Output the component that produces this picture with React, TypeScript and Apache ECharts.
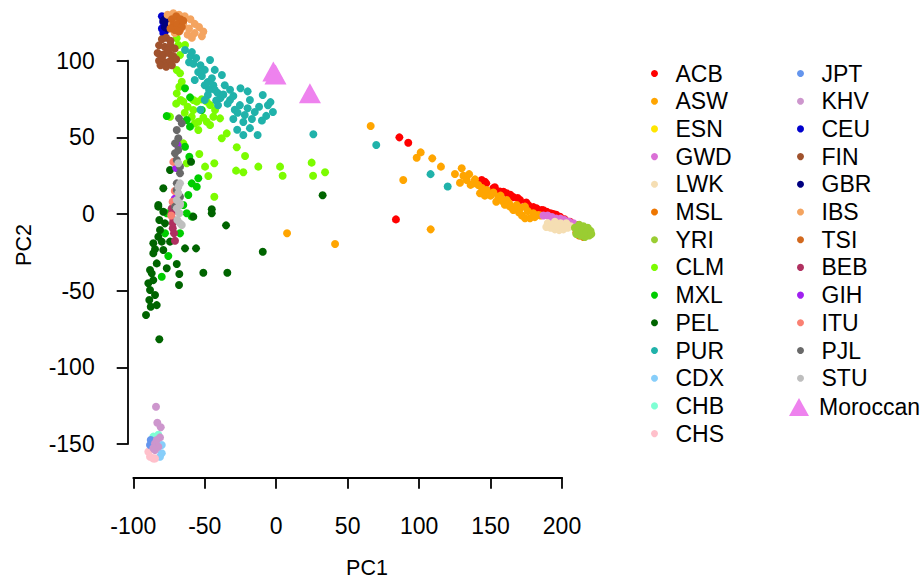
import React, { useEffect, useRef } from "react";
import * as echarts from "echarts";

const xTicks = [-100, 200, 50];
const yTicks = [-150, 100, 50];
const xTitle = "PC1";
const yTitle = "PC2";

const populations = [
  "ACB", "ASW", "ESN", "GWD", "LWK", "MSL", "YRI", "CLM", "MXL", "PEL", "PUR", "CDX", "CHB", "CHS",
  "JPT", "KHV", "CEU", "FIN", "GBR", "IBS", "TSI", "BEB", "GIH", "ITU", "PJL", "STU", "Moroccan",
];
const colors = [
  "#FF0000", "#FFA500", "#FFE600", "#DA70D6", "#F5DEB3", "#EE7600", "#9ACD32", "#7CFC00", "#00CD00",
  "#006400", "#20B2AA", "#87CEFA", "#7FFFD4", "#FFC0CB", "#6495ED", "#CD96CD", "#0000CD", "#A0522D",
  "#000080", "#F4A460", "#D2691E", "#B03060", "#A020F0", "#FA8072", "#696969", "#BEBEBE", "#EE82EE",
];

const ACB = [[86.2,50],[92.4,46.5],[83.8,-3.5],[143.8,22.2],[146,21],[147,20],[151.9,16.8],[153,17.5],[156.6,14.6],[159,14.5],[161.3,13.5],[164,12.5],[166,11],[169,10.5],[170.6,9.1],[175,7.5],[176.4,5.9],[180,4.5],[182.3,3.7],[185.8,2.6],[187,2.5],[189.3,1.5],[192,0.5],[194,0],[196,-0.5],[198.6,-1.8],[202,-3.5],[205.6,-5],[211.4,-7.2],[213.8,-13.7]];
const ASW = [[66.1,57.4],[101.1,40.2],[98.3,36.7],[109.2,36.3],[115.3,30.9],[88.9,22.2],[108.1,-10],[7.6,-12.5],[41.2,-19.6],[125.1,26.1],[129.8,29.8],[128.6,20.4],[131,25],[133.3,22.2],[135,26],[138,20],[139.1,22.6],[141.4,18.9],[142.6,13.5],[144,17],[146,12],[147.3,15.7],[152,14],[154,8],[155.4,11.3],[157,12],[158.9,8],[160,6],[161.3,9.1],[163,7],[163.6,4.8],[165.9,2.6],[167,3],[168.3,5.9],[171,4],[172,-1],[174.1,4.8],[174.1,-2.8],[176,2],[179.9,0.5],[177.6,-2.8],[181,-2],[183.4,-0.6],[185,-1],[136,19],[150,12],[170,1]];
const ESN = [[213,-11],[216,-12],[214,-13]];
const GWD = [[187,-1],[190,-1],[193,-2],[196,-3],[199,-3],[202,-4],[205,-5],[208,-6]];
const LWK = [[190,-6],[192,-9],[195,-10],[198,-10.5],[201,-10],[204,-9],[206,-8],[203,-6],[199,-6],[195,-5],[193,-7],[197,-8],[201,-8],[189,-8.5]];
const MSL = [[212,-14],[215,-15],[210,-12]];
const YRI = [[209,-9],[212,-7],[215,-8],[218,-9],[220,-11],[219,-14],[216,-15],[213,-14],[210,-13],[211,-10],[214,-11],[217,-12],[220.5,-13]];
const CLM = [[-69.6,114.6],[-68.5,110.2],[-63.8,110.2],[-67.3,103.7],[-69.6,93.9],[-67.3,91.8],[-66.1,86.3],[-67.8,83],[-69.6,78.7],[-66.8,74.4],[-65,73.3],[-58,74.4],[-55.6,73.3],[-52.1,74.8],[-48.6,73.3],[-46.3,71.1],[-42.8,67.8],[-44,63.5],[-39.3,62.4],[-58,67.8],[-59.1,63.5],[-54.5,60.2],[-48.6,60.2],[-46.3,58.1],[-54.5,54.8],[-74.3,63.5],[-62,70],[-57,59],[-51,63],[-64,66],[-70,72],[-38.1,49.4],[-34.6,52.6],[-27.6,43.5],[-21.8,37.8],[-53.8,39.1],[-65,46.1],[-62.6,33.1],[-49.8,30.9],[-47.5,24.8],[-43.3,33.1],[-43.3,11.3],[-28.1,28.3],[-23,27.2],[-12.5,30.9],[2.7,30.9],[4.5,25],[24.8,33.5],[25.8,25],[34.2,27.2]];
const MXL = [[-60.3,57],[-63.8,43.9],[-60.8,37.4],[-54.5,23.3],[-55.6,17.8],[-59.1,20],[-61.5,12.4],[-76.6,63.9],[-62.6,61.3],[-63.8,82],[-60.3,76.1],[-52.1,67.8],[-62.6,0.5],[-67.3,-12.6],[-75.5,-27.4],[-80.1,-40.9],[-59.1,-1.7],[-77.8,-12.6],[-76.6,0.5],[-65,5.9]];
const PEL = [[-82.5,4.8],[-79,1.5],[-81.8,-3.9],[-81.3,-10.4],[-82.5,-14.8],[-84.8,-23],[-79,-23.5],[-83.6,-32.2],[-87.1,-38.7],[-86,-43.1],[-88.3,-49.6],[-88.8,-56.1],[-87.8,-60.5],[-91.1,-65.9],[-81.8,-81.7],[-63.8,-22.4],[-56.1,-22.4],[-69.6,-32.6],[-67.8,-39.1],[-51,-38.3],[-34.2,-38.3],[-68,-46.3],[-76.6,-35.4],[-45.1,0.5],[-35.1,-7.4],[-9.4,-24.6],[-58,-1.7],[-86,-25.6],[-88.3,-36.5],[-89.5,-45.2],[-84.8,-52.8],[-83.6,-59.4],[-86,-19.1],[-80.1,-18],[-74.3,-18],[-77.8,-6.1],[32.5,12.2],[-59.6,34.1],[-74.3,28.7],[-79,16.8],[-82.5,5.9],[-45.1,3.1]];
const PUR = [[-63.8,107],[-61,99],[-60,103],[-59,105.6],[-58,98],[-56,101.8],[-53,97],[-54.6,92.6],[-52,90],[-50,94],[-57,87.4],[-50,84],[-48,86],[-45,88.6],[-44,84],[-43,81],[-47.8,77.6],[-47,81],[-42,74],[-41,79],[-39,75.7],[-37,78],[-36,84],[-40.7,71],[-34,72],[-32.3,74.4],[-30,77],[-29,68],[-27,66],[-32.3,81],[-25.4,71],[-22,64.6],[-20,69],[-20,80],[-18.4,74.4],[-17,62],[-15,66.5],[-12,70],[-9.4,77.6],[-7,64],[-5.8,71],[-4,73],[-2.3,66.5],[-10,61],[-18.4,56],[-23,60],[-27.3,55],[-30,62],[-50,74.4],[-53,68],[-46.3,100.5],[-43,94],[-38,90.7],[-25,82],[-23,51.5],[-13,51.5],[26,52],[70,45],[108,26],[120,18]];
const CDX = [[-80.1,-150.7],[-81.3,-158.3],[-80.1,-156]];
const CHB = [[-86,-145.2],[-82.5,-144]];
const CHS = [[-89.5,-155],[-88.3,-158.3],[-86,-159.4],[-84.8,-159.4]];
const JPT = [[-87.8,-147.4],[-88.3,-150.7]];
const KHV = [[-84.1,-125.7],[-83.2,-136.1],[-80.8,-139.1],[-81.3,-145.7],[-84.8,-149.6],[-84.8,-153.9],[-82.5,-151.8],[-83.6,-147.4],[-86,-152.8]];
const CEU = [[-80,129],[-79,125],[-80,121],[-79,118],[-77,128],[-77,123],[-78,119]];
const FIN = [[-80,114],[-77,115],[-74,113],[-82,110],[-78,109],[-74,110],[-71,108],[-83,105],[-79,104],[-75,105],[-72,103],[-82,100],[-78,99],[-74,100],[-70,101],[-81,97],[-77,96],[-73,97],[-80,102],[-76,107]];
const GBR = [[-78,127],[-77,124],[-76,121],[-78,122],[-79,126],[-76,126]];
const IBS = [[-76,130],[-72,131],[-68,130],[-64,129],[-60,127],[-57,124],[-54,122],[-51,119],[-52,116],[-57,118],[-61,121],[-65,124],[-70,127],[-73,124],[-67,120],[-71,118],[-62,117],[-59,115]];
const TSI = [[-73,127],[-70,129],[-67,127],[-72,123],[-69,124],[-66,122],[-71,120],[-68,119],[-74,121],[-65,126]];
const BEB = [[-73.1,0.5],[-72,-3.9],[-72.4,-9.3],[-71.5,-12.6],[-70.8,-17.4],[-73.1,3.7],[-72.4,-6.1]];
const GIH = [[-70,30],[-71,10],[-69,45]];
const ITU = [[-72,34],[-72.5,8],[-73.5,-1],[-71,15]];
const PJL = [[-68,62.4],[-69.6,54.8],[-70.8,46.1],[-68.5,41.8],[-69.6,35.2],[-67.3,26.6],[-69.6,20],[-67.3,11.3],[-68.5,49.4],[-70.8,39.6],[-66.1,59.2],[-67.3,30.9],[-69.6,15.7],[-70.8,4.8]];
const STU = [[-68.5,33.1],[-67.3,20],[-68.5,13.5],[-67.3,5.9],[-67.3,7],[-67.8,0.5],[-67.3,-6.1],[-66.1,-7.2],[-69.6,3.7],[-69.2,-3.9],[-68.5,17.8],[-69.6,9.1]];
const Moroccan = [[-2,93],[-0.5,91],[23.6,78.8]];

const seriesData = [ACB, ASW, ESN, GWD, LWK, MSL, YRI, CLM, MXL, PEL, PUR, CDX, CHB, CHS, JPT, KHV, CEU, FIN, GBR, IBS, TSI, BEB, GIH, ITU, PJL, STU, Moroccan];

const FONT = "'Liberation Sans', Arial, Helvetica, sans-serif";

export default function App() {
  const ref = useRef<HTMLDivElement>(null);
  useEffect(() => {
    if (!ref.current) return;
    const chart = echarts.init(ref.current, undefined, { renderer: "svg" });
    const legendText = { color: "#000", fontSize: 23, lineHeight: 24, fontFamily: FONT };
    const option = {
      animation: false,
      backgroundColor: "#fff",
      grid: { left: 133.3, top: 60.7, width: 428.7, height: 383.3 },
      xAxis: {
        type: "value",
        min: xTicks[0],
        max: xTicks[1],
        interval: xTicks[2],
        offset: 33.3,
        splitLine: { show: false },
        axisLine: { show: true, onZero: false, lineStyle: { color: "#000", width: 1.8 } },
        axisTick: { show: true, length: 11.5, lineStyle: { color: "#000", width: 1.8 } },
        axisLabel: { color: "#000", fontSize: 23, fontFamily: FONT, margin: 37 },
      },
      yAxis: {
        type: "value",
        min: yTicks[0],
        max: yTicks[1],
        interval: yTicks[2],
        offset: 5.6,
        splitLine: { show: false },
        axisLine: { show: true, onZero: false, lineStyle: { color: "#000", width: 1.8 } },
        axisTick: { show: true, length: 11, lineStyle: { color: "#000", width: 1.8 } },
        axisLabel: { color: "#000", fontSize: 23, fontFamily: FONT, margin: 33 },
      },
      legend: [
        {
          data: populations.slice(0, 14), orient: "vertical", left: 651, top: 61.5, padding: 0,
          itemWidth: 32, itemHeight: 7, itemGap: 3.7, selectedMode: false, textStyle: legendText,
        },
        {
          data: populations.slice(14, 26), orient: "vertical", left: 797, top: 61.5, padding: 0,
          itemWidth: 32, itemHeight: 7, itemGap: 3.7, selectedMode: false, textStyle: legendText,
        },
        {
          data: populations.slice(26), orient: "vertical", left: 789, top: 395, padding: 0,
          itemWidth: 20, itemHeight: 18, selectedMode: false,
          textStyle: { ...legendText, padding: [0, 0, 0, 5] },
        },
      ],
      graphic: [
        { type: "text", x: 367, y: 568, style: { text: xTitle, fontSize: 21.5, fontFamily: FONT, fill: "#000", align: "center", verticalAlign: "middle" } },
        { type: "text", x: 24, y: 245, rotation: Math.PI / 2, style: { text: yTitle, fontSize: 21.5, fontFamily: FONT, fill: "#000", align: "center", verticalAlign: "middle" } },
      ],
      series: populations.map((name, i) => ({
        name,
        type: "scatter",
        data: seriesData[i],
        symbol: name === "Moroccan" ? "triangle" : "circle",
        symbolSize: name === "Moroccan" ? [22, 20] : 8,
        itemStyle: { color: colors[i], opacity: 1 },
        clip: false,
        silent: true,
      })),
    };
    chart.setOption(option as any);
    return () => chart.dispose();
  }, []);
  return <div ref={ref} style={{ position: "fixed", left: 0, top: 0, width: 921, height: 580 }} />;
}
